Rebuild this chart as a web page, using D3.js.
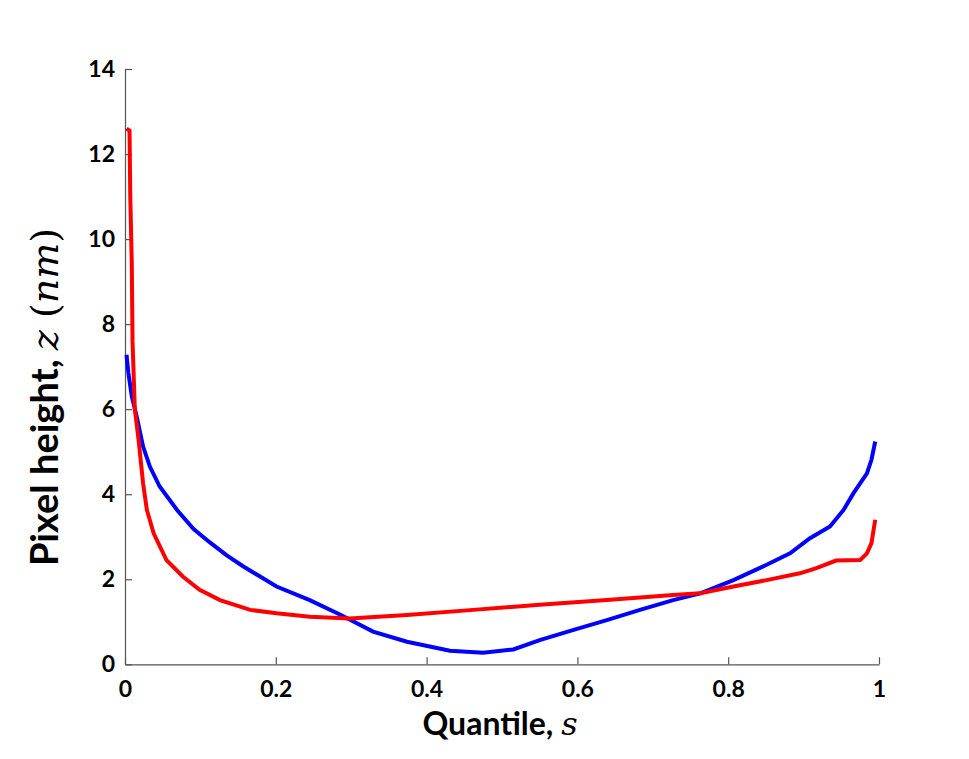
<!DOCTYPE html>
<html>
<head>
<meta charset="utf-8">
<script src="https://cdn.jsdelivr.net/npm/d3@7"></script>
<style>
  body { margin: 0; background: #fff; }
  .axis text { font-family: Lato, "Open Sans", sans-serif; font-weight: bold; font-size: 23px; fill: #000; }
  .axis path, .axis line { stroke: #555; stroke-width: 1.2; }
  .label { font-family: Lato, "Open Sans", sans-serif; font-weight: bold; fill: #000; }
  .math { font-family: "DejaVu Serif", "Liberation Serif", serif; font-style: italic; font-weight: normal; }
</style>
</head>
<body>
<svg id="chart" width="969" height="759"></svg>
<script>
// quantile s and pixel height z
const blueS = [0.002, 0.0045, 0.009, 0.0155, 0.024, 0.033, 0.046, 0.069, 0.091, 0.113, 0.135, 0.157, 0.201, 0.245, 0.285, 0.329, 0.374, 0.431, 0.475, 0.515, 0.55, 0.595, 0.639, 0.683, 0.727, 0.763, 0.807, 0.851, 0.882, 0.908, 0.935, 0.953, 0.966, 0.984, 0.990, 0.995];
const blueZ = [7.28, 6.85, 6.3, 5.83, 5.12, 4.65, 4.18, 3.63, 3.18, 2.86, 2.56, 2.30, 1.83, 1.51, 1.17, 0.77, 0.53, 0.32, 0.27, 0.35, 0.57, 0.81, 1.04, 1.28, 1.51, 1.67, 1.98, 2.34, 2.61, 2.96, 3.24, 3.63, 4.02, 4.49, 4.81, 5.24];

const redS = [0.002, 0.006, 0.007, 0.009, 0.010, 0.013, 0.018, 0.024, 0.029, 0.038, 0.055, 0.077, 0.099, 0.126, 0.166, 0.201, 0.245, 0.298, 0.374, 0.462, 0.55, 0.639, 0.727, 0.763, 0.807, 0.851, 0.895, 0.917, 0.943, 0.975, 0.984, 0.990, 0.995];
const redZ = [12.6, 12.55, 11.0, 9.4, 7.6, 6.0, 5.28, 4.26, 3.63, 3.08, 2.45, 2.06, 1.75, 1.51, 1.28, 1.20, 1.12, 1.08, 1.16, 1.28, 1.40, 1.51, 1.63, 1.67, 1.83, 1.98, 2.14, 2.26, 2.44, 2.45, 2.61, 2.85, 3.40];

const xTicks = [0, 0.2, 0.4, 0.6, 0.8, 1];
const xTickLabels = ["0", "0.2", "0.4", "0.6", "0.8", "1"];
const yTicks = [0, 2, 4, 6, 8, 10, 12, 14];

const svg = d3.select("#chart");
const plotLeft = 125, plotRight = 879, plotTop = 69, plotBottom = 664.3;

let x = d3.scaleLinear().domain([0, 1]).range([plotLeft, plotRight]);
let y = d3.scaleLinear().domain([0, 14]).range([plotBottom, plotTop]);

svg.append("g")
    .attr("class", "axis")
    .attr("transform", "translate(0," + plotBottom + ")")
    .call(d3.axisBottom(x)
        .tickValues(xTicks)
        .tickFormat((d, i) => xTickLabels[i])
        .tickSizeInner(-7)
        .tickSizeOuter(0)
        .tickPadding(16));

svg.append("g")
    .attr("class", "axis")
    .attr("transform", "translate(" + plotLeft + ",0)")
    .call(d3.axisLeft(y)
        .tickValues(yTicks)
        .tickSizeInner(-7)
        .tickSizeOuter(0)
        .tickPadding(10));

svg.selectAll(".axis .domain").attr("stroke", "#555");

let line = d3.line()
    .x(d => x(d[0]))
    .y(d => y(d[1]));

svg.append("path")
    .datum(blueS.map((s, i) => [s, blueZ[i]]))
    .attr("d", line)
    .attr("fill", "none")
    .attr("stroke", "#0000ff")
    .attr("stroke-width", 4);

svg.append("path")
    .datum(redS.map((s, i) => [s, redZ[i]]))
    .attr("d", line)
    .attr("fill", "none")
    .attr("stroke", "#ff0000")
    .attr("stroke-width", 4);

// axis labels
let xl = svg.append("text")
    .attr("class", "label")
    .attr("x", 500)
    .attr("y", 735)
    .attr("text-anchor", "middle")
    .style("font-size", "32px");
xl.append("tspan").text("Quantile, ");
xl.append("tspan").attr("class", "math").text("s");

let yl = svg.append("text")
    .attr("class", "label")
    .attr("transform", "translate(58," + 397 + ") rotate(-90)")
    .attr("text-anchor", "middle")
    .style("font-size", "38px");
yl.append("tspan").text("Pixel height, ");
yl.append("tspan").attr("class", "math").text("z");
yl.append("tspan").attr("class", "math").style("font-style", "normal").text(" (");
yl.append("tspan").attr("class", "math").text("nm");
yl.append("tspan").attr("class", "math").style("font-style", "normal").text(")");
</script>
</body>
</html>
